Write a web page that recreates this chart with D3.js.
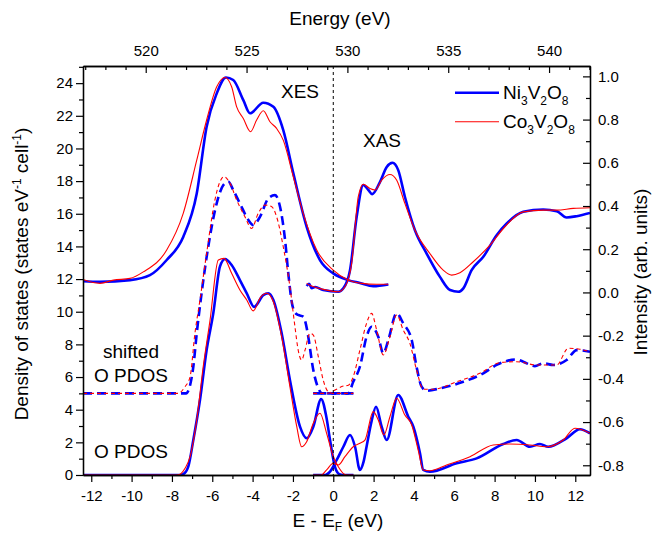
<!DOCTYPE html>
<html>
<head>
<meta charset="utf-8">
<script src="https://cdn.jsdelivr.net/npm/d3@7"></script>
<style>
body { margin: 0; background: #fff; }
text { font-family: "Liberation Sans", Arial, sans-serif; fill: #000; }
</style>
</head>
<body>
<div id="chart-area"></div>
<script>
// E - EF (eV) vs intensity (right axis, arb. units)
var xesNi = [[-12.41,0.052],[-11.57,0.049],[-10.08,0.057],[-9.09,0.08],[-8.26,0.15],[-7.44,0.257],[-6.77,0.458],[-6.28,0.767],[-5.78,0.921],[-5.32,0.995],[-4.96,0.983],[-4.46,0.89],[-4.13,0.829],[-3.47,0.878],[-2.97,0.859],[-2.48,0.751],[-1.98,0.551],[-1.32,0.304],[-0.66,0.15],[0,0.088],[0.74,0.057],[1.32,0.044],[1.98,0.029],[2.73,0.037]];
var xesCo = [[-12.41,0.06],[-11.57,0.042],[-10.9,0.057],[-10.08,0.065],[-9.42,0.095],[-8.26,0.196],[-7.44,0.366],[-6.77,0.612],[-6.28,0.798],[-5.78,0.952],[-5.37,0.995],[-5.04,0.952],[-4.79,0.859],[-4.46,0.805],[-4.1,0.744],[-3.8,0.798],[-3.47,0.841],[-3.14,0.79],[-2.81,0.759],[-2.48,0.705],[-1.98,0.535],[-1.49,0.366],[-0.82,0.196],[0,0.103],[0.74,0.057],[1.41,0.042],[2.15,0.038],[2.73,0.038]];
var xasNi = [[-1.32,0.03],[-1.2,0.04],[-1.07,0.02],[-0.9,0.025],[-0.5,0.011],[0.25,0.003],[0.5,0.019],[0.83,0.103],[1.16,0.35],[1.49,0.497],[1.74,0.474],[1.93,0.455],[2.32,0.512],[2.65,0.581],[2.94,0.6],[3.22,0.566],[3.55,0.443],[4.05,0.288],[4.63,0.18],[5.29,0.072],[5.79,0.011],[6.2,0.003],[6.45,0.019],[6.86,0.103],[7.44,0.165],[8.1,0.265],[8.6,0.319],[9.42,0.373],[10.41,0.384],[11.08,0.376],[11.57,0.347],[12.07,0.353],[12.73,0.368]];
var xasCo = [[-1.32,0.042],[-1.2,0.035],[-1.07,0.03],[-0.5,0.014],[0.25,0.003],[0.58,0.026],[0.91,0.134],[1.24,0.443],[1.49,0.501],[1.82,0.481],[2.07,0.474],[2.4,0.52],[2.81,0.546],[3.14,0.52],[3.55,0.412],[4.05,0.288],[4.79,0.18],[5.45,0.103],[5.87,0.08],[6.28,0.091],[6.94,0.142],[7.77,0.219],[8.51,0.304],[9.42,0.373],[10.41,0.381],[11.08,0.381],[11.9,0.389],[12.73,0.392]];

// O PDOS (left axis, states eV-1 cell-1)
var pdosOccNi = [[-12.41,0],[-7.6,0],[-7.44,0.05],[-7.19,0.51],[-6.94,2.14],[-6.61,4.59],[-6.28,7.65],[-5.95,9.9],[-5.62,12.76],[-5.37,13.23],[-5.04,12.86],[-4.63,11.94],[-4.29,11.13],[-3.92,10.3],[-3.47,11.02],[-3.22,11.13],[-2.97,10.72],[-2.56,8.68],[-2.15,5.82],[-1.65,2.96],[-1.32,2.25],[-0.99,2.96],[-0.6,4.65],[-0.35,3.6],[-0.16,2.14],[0.08,0.51],[0.3,0.05],[0.5,0],[1,0]];
var pdosOccCo = [[-12.41,0],[-7.8,0],[-7.6,0.05],[-7.35,0.41],[-7.1,1.12],[-6.77,3.37],[-6.45,6.63],[-6.11,9.49],[-5.7,13.17],[-5.42,13.27],[-5.04,12.35],[-4.63,11.33],[-4.29,10.72],[-3.97,10.05],[-3.6,10.9],[-3.3,11.13],[-2.97,10.61],[-2.56,8.47],[-2.15,5.41],[-1.81,2.96],[-1.57,1.73],[-1.32,2.04],[-0.99,3.17],[-0.66,3.78],[-0.33,2.55],[0,1.12],[0.25,0.51],[0.55,0.05],[0.7,0],[1,0]];
var pdosUnoNi = [[-1,0],[-0.4,0],[-0.2,0.15],[0.17,0.92],[0.5,1.73],[0.83,2.45],[1.08,1.73],[1.32,0.31],[1.5,0.8],[1.65,1.73],[1.9,3.3],[2.12,4.18],[2.4,2.96],[2.65,2.14],[3.22,4.9],[3.72,3.57],[3.97,2.96],[4.3,1.33],[4.46,0.31],[4.79,0.2],[6.12,0.72],[7.11,1.02],[8.43,1.9],[9.09,2.14],[9.75,1.73],[10.25,1.9],[10.66,1.73],[11.57,2.25],[12.23,2.8],[12.73,2.55]];
var pdosUnoCo = [[-1,0],[-0.6,0],[-0.33,0.31],[0,0.72],[0.25,0.61],[0.58,1.12],[0.99,1.73],[1.32,1.94],[1.57,2.14],[1.98,3.88],[2.23,3.37],[2.51,2.45],[2.81,3.57],[3.14,4.7],[3.55,3.67],[3.89,3.06],[4.21,1.53],[4.46,0.31],[4.79,0.26],[5.62,0.61],[6.78,1.12],[7.93,1.84],[8.76,1.9],[9.75,1.84],[10.58,1.73],[11.4,2.14],[11.98,2.86],[12.73,2.55]];

// shifted O PDOS (offset by 5)
var shOccNi = [[-12.41,5],[-7.3,5],[-7.1,5.5],[-6.94,6.63],[-6.77,8.68],[-6.53,11.13],[-6.2,13.98],[-5.78,16.64],[-5.45,17.76],[-5.2,17.96],[-4.96,17.45],[-4.63,16.64],[-4.21,15.62],[-3.97,15.31],[-3.63,15.82],[-3.22,16.94],[-2.89,17.14],[-2.64,16.43],[-2.39,14.39],[-2.23,12.35],[-2.06,10.6],[-1.9,9.95],[-1.74,9.8],[-1.49,9.7],[-1.3,8.9],[-1.24,8.47],[-0.99,6.43],[-0.74,5.31],[-0.55,5],[1,5]];
var shOccCo = [[-12.41,5],[-7.7,5],[-7.35,5.41],[-7.1,6.02],[-6.86,8.68],[-6.61,10.72],[-6.28,13.58],[-5.87,16.84],[-5.62,17.96],[-5.42,18.27],[-5.12,17.86],[-4.79,16.84],[-4.38,15.82],[-4.05,15.1],[-3.72,16.03],[-3.39,16.53],[-3.05,16.43],[-2.81,15.82],[-2.48,13.98],[-2.15,11.53],[-1.9,9.08],[-1.74,7.65],[-1.57,7.04],[-1.4,7.65],[-1.16,8.68],[-0.99,8.57],[-0.74,7.24],[-0.5,5.82],[-0.25,5.1],[0,5],[1,5]];
var shUnoNi = [[-1,5],[0.74,5],[0.99,5.71],[1.32,6.63],[1.65,8.47],[1.9,9.08],[2.23,8.47],[2.48,7.45],[2.73,8.27],[3.14,9.9],[3.47,9.29],[3.89,8.27],[4.13,6.63],[4.38,5.41],[4.63,5.16],[5.29,5.31],[6.45,5.71],[7.44,6.23],[8.1,6.74],[9.09,7.08],[9.42,6.94],[10,6.67],[10.41,6.84],[10.91,6.74],[11.57,7.04],[12.07,7.65],[12.73,7.55]];
var shUnoCo = [[-1,5],[-0.3,5],[0,5.15],[0.5,5.45],[0.75,5.5],[0.99,6.02],[1.32,7.65],[1.65,9.29],[1.9,9.9],[2.15,8.88],[2.48,7.35],[2.81,8.47],[3.14,9.8],[3.47,8.88],[3.8,8.06],[4.13,6.43],[4.46,5.25],[4.96,5.25],[6.12,5.71],[7.27,6.23],[8.26,6.88],[9.09,6.94],[10.08,6.74],[11.08,6.74],[11.65,7.76],[12.23,7.7],[12.73,7.55]];

var bottomTicks = [-12,-10,-8,-6,-4,-2,0,2,4,6,8,10,12];
var topTicks = [520,525,530,535,540];
var leftTicks = [0,2,4,6,8,10,12,14,16,18,20,22,24];
var rightTicks = [-0.8,-0.6,-0.4,-0.2,0.0,0.2,0.4,0.6,0.8,1.0];
var energyOffset = 529.3;

var margin = {top: 66, right: 63, bottom: 60, left: 83};
var width = 653 - margin.left - margin.right;
var height = 535 - margin.top - margin.bottom;

var svg = d3.select("#chart-area").append("svg")
    .attr("width", 653)
    .attr("height", 535);

var group = svg.append("g")
    .attr("transform", "translate(" + margin.left + "," + margin.top + ")");

var x = d3.scaleLinear().domain([-12.41, 12.73]).range([0, width]);
var xTop = d3.scaleLinear().domain([-12.41 + energyOffset, 12.73 + energyOffset]).range([0, width]);
var yL = d3.scaleLinear().domain([0, 25.05]).range([height, 0]);
var yR = d3.scaleLinear().domain([-0.845, 1.048]).range([height, 0]);

group.append("clipPath").attr("id", "clip")
    .append("rect").attr("width", width).attr("height", height);

var plot = group.append("g").attr("clip-path", "url(#clip)");

var lineL = d3.line().x(d => x(d[0])).y(d => yL(d[1])).curve(d3.curveMonotoneX);
var lineR = d3.line().x(d => x(d[0])).y(d => yR(d[1])).curve(d3.curveMonotoneX);

var blue = "#0000ff", red = "#ff0000";
var series = [
    {d: xesNi, l: lineR, c: blue, w: 2.6, dash: null},
    {d: xasNi, l: lineR, c: blue, w: 2.6, dash: null},
    {d: pdosOccNi, l: lineL, c: blue, w: 2.6, dash: null},
    {d: pdosUnoNi, l: lineL, c: blue, w: 2.6, dash: null},
    {d: shOccNi, l: lineL, c: blue, w: 2.6, dash: "9,5"},
    {d: shUnoNi, l: lineL, c: blue, w: 2.6, dash: "9,5"},
    {d: xesCo, l: lineR, c: red, w: 1.1, dash: null},
    {d: xasCo, l: lineR, c: red, w: 1.1, dash: null},
    {d: pdosOccCo, l: lineL, c: red, w: 1.1, dash: null},
    {d: pdosUnoCo, l: lineL, c: red, w: 1.1, dash: null},
    {d: shOccCo, l: lineL, c: red, w: 1.1, dash: "4,3"},
    {d: shUnoCo, l: lineL, c: red, w: 1.1, dash: "4,3"}
];

plot.selectAll("path.s").data(series).enter()
    .append("path")
        .attr("class", "s")
        .attr("d", s => s.l(s.d))
        .attr("fill", "none")
        .attr("stroke", s => s.c)
        .attr("stroke-width", s => s.w)
        .attr("stroke-dasharray", s => s.dash);

// Fermi level
plot.append("line")
    .attr("x1", x(0)).attr("x2", x(0))
    .attr("y1", 0).attr("y2", height)
    .attr("stroke", "#000").attr("stroke-width", 1)
    .attr("stroke-dasharray", "3,3");

// axes
function minorOf(major, step, lo, hi) {
    return d3.range(lo, hi + 1e-9, step).filter(v => !major.some(m => Math.abs(m - v) < 1e-6));
}

var gB = group.append("g").attr("transform", "translate(0," + height + ")");
gB.call(d3.axisBottom(x).tickValues(minorOf(bottomTicks, 1, -12, 12)).tickSize(4).tickSizeOuter(0).tickFormat(""));
gB.append("g").call(d3.axisBottom(x).tickValues(bottomTicks).tickSize(7).tickSizeOuter(0).tickPadding(8).tickFormat(d => String(d)));

var gT = group.append("g");
gT.call(d3.axisTop(xTop).tickValues(minorOf(topTicks, 1, 517, 542)).tickSizeInner(-4).tickSizeOuter(0).tickFormat(""));
gT.append("g").call(d3.axisTop(xTop).tickValues(topTicks).tickSizeInner(-7).tickSizeOuter(0).tickPadding(10.5).tickFormat(d => String(d)));

var gL = group.append("g");
gL.call(d3.axisLeft(yL).tickValues(minorOf(leftTicks, 1, 1, 25)).tickSize(4).tickSizeOuter(0).tickFormat(""));
gL.append("g").call(d3.axisLeft(yL).tickValues(leftTicks).tickSize(7).tickSizeOuter(0).tickPadding(3).tickFormat(d => String(d)));

var gR = group.append("g").attr("transform", "translate(" + width + ",0)");
gR.call(d3.axisRight(yR).tickValues(minorOf(rightTicks, 0.1, -0.8, 1.0)).tickSizeInner(-4).tickSizeOuter(0).tickFormat(""));
gR.append("g").call(d3.axisRight(yR).tickValues(rightTicks).tickSizeInner(-7).tickSizeOuter(0).tickPadding(8).tickFormat(d => d.toFixed(1)));

group.selectAll(".domain").attr("stroke", "#000").attr("stroke-width", 1.3);
group.selectAll(".tick line").attr("stroke", "#000").attr("stroke-width", 1.2);
group.selectAll(".tick text").style("font-size", "15px").style("font-family", "'Liberation Sans', Arial, sans-serif").attr("fill", "#000");

// titles
svg.append("text").attr("x", 340).attr("y", 25).attr("text-anchor", "middle")
    .style("font-size", "19px").text("Energy (eV)");

var bt = svg.append("text").attr("x", 338).attr("y", 527).attr("text-anchor", "middle").style("font-size", "19px");
bt.append("tspan").text("E - E");
bt.append("tspan").attr("dy", 4).style("font-size", "12px").text("F");
bt.append("tspan").attr("dy", -4).text(" (eV)");

var lt = svg.append("text").attr("transform", "translate(28,274) rotate(-90)")
    .attr("text-anchor", "middle").style("font-size", "19px");
lt.append("tspan").text("Density of states (states eV");
lt.append("tspan").attr("dy", -7).style("font-size", "12px").text("-1");
lt.append("tspan").attr("dy", 7).text(" cell");
lt.append("tspan").attr("dy", -7).style("font-size", "12px").text("-1");
lt.append("tspan").attr("dy", 7).text(")");

svg.append("text").attr("transform", "translate(647,272) rotate(-90)")
    .attr("text-anchor", "middle").style("font-size", "19px").text("Intensity (arb. units)");

// annotations
var notes = [
    {t: "XES", x: 281, y: 98},
    {t: "XAS", x: 363, y: 147},
    {t: "shifted", x: 103, y: 358},
    {t: "O PDOS", x: 94, y: 382},
    {t: "O PDOS", x: 94, y: 458}
];
svg.selectAll("text.note").data(notes).enter()
    .append("text")
        .attr("class", "note")
        .attr("x", d => d.x).attr("y", d => d.y)
        .style("font-size", "19px")
        .text(d => d.t);

// legend
var legend = [
    {c: blue, w: 2.6, y: 92.7, parts: ["Ni", "3", "V", "2", "O", "8"]},
    {c: red, w: 1.1, y: 121.7, parts: ["Co", "3", "V", "2", "O", "8"]}
];
legend.forEach(function(item) {
    svg.append("line")
        .attr("x1", 455).attr("x2", 499)
        .attr("y1", item.y).attr("y2", item.y)
        .attr("stroke", item.c).attr("stroke-width", item.w);
    var t = svg.append("text").attr("x", 503).attr("y", item.y + 6).style("font-size", "19px");
    item.parts.forEach(function(p, i) {
        if (i % 2 === 0) {
            t.append("tspan").attr("dy", i === 0 ? 0 : -6).text(p);
        } else {
            t.append("tspan").attr("dy", 6).style("font-size", "12px").text(p);
        }
    });
});
</script>
</body>
</html>
